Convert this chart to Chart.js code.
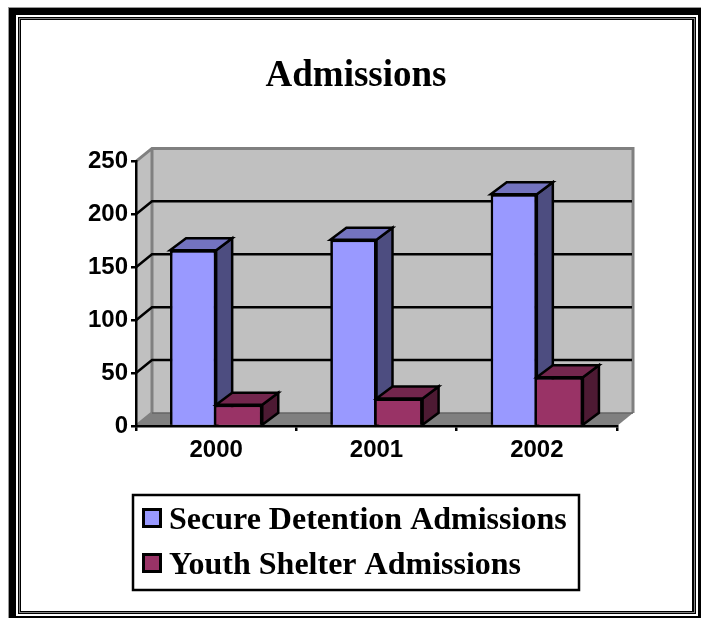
<!DOCTYPE html>
<html>
<head>
<meta charset="utf-8">
<title>Admissions</title>
<script src="https://cdn.jsdelivr.net/npm/chart.js@4"></script>
<style>
  html, body { margin: 0; padding: 0; background: #fff; }
  canvas { display: block; }
</style>
</head>
<body>
<canvas id="chart" width="701" height="618"></canvas>
<script>
const years = ['2000', '2001', '2002'];
const secureDetention = [166, 176, 219];
const youthShelter = [20, 26, 46];
const seriesNames = ['Secure Detention Admissions', 'Youth Shelter Admissions'];

const serif = '"Liberation Serif", serif';
const sans = '"Liberation Sans", sans-serif';
const frontColors = ['#9999ff', '#993366'];
const topColors = ['#7373bf', '#73264d'];
const sideColors = ['#4d4d80', '#4d1a33'];

// depth of the fake 3d box
const wallDx = 16, wallDy = 13;
const barDx = 16, barDy = 12;

function poly(ctx, pts, fill, stroke, lw) {
    ctx.beginPath();
    pts.forEach((p, i) => i ? ctx.lineTo(p[0], p[1]) : ctx.moveTo(p[0], p[1]));
    ctx.closePath();
    if (fill) { ctx.fillStyle = fill; ctx.fill(); }
    if (stroke) { ctx.strokeStyle = stroke; ctx.lineWidth = lw; ctx.lineJoin = 'miter'; ctx.stroke(); }
}

// taller than the square on purpose: chart.js centres the image, this lifts the square to the text
function swatch(color) {
    const c = document.createElement('canvas');
    c.width = 20;
    c.height = 26;
    const g = c.getContext('2d');
    g.fillStyle = '#000';
    g.fillRect(0, 0, 20, 20);
    g.fillStyle = color;
    g.fillRect(3, 3, 14, 14);
    return c;
}

const backdrop = {
    id: 'backdrop',
    afterLayout(chart) {
        // title centred on the whole frame, legend box under the axis
        chart.titleBlock.left = 0;
        chart.titleBlock.right = 712;
        chart.legend.left = 138;
        chart.legend.top = 492;
    },
    beforeDraw(chart) {
        const ctx = chart.ctx;
        const { left, right, top, bottom } = chart.chartArea;

        // page frame
        ctx.fillStyle = '#999'; ctx.fillRect(8, 7, 693, 611);
        ctx.fillStyle = '#000'; ctx.fillRect(9, 8, 692, 610);
        ctx.fillStyle = '#fff'; ctx.fillRect(16, 15, 682, 601);
        ctx.fillStyle = '#000'; ctx.fillRect(18, 17, 678, 597);
        ctx.fillStyle = '#808080'; ctx.fillRect(19, 18, 676, 595);
        ctx.fillStyle = '#000'; ctx.fillRect(20, 19, 674, 593);
        ctx.fillStyle = '#fff'; ctx.fillRect(21, 20, 671, 591);

        // walls and floor
        const bx = left + wallDx, by = top - wallDy, fy = bottom - wallDy, rx = right + wallDx;
        poly(ctx, [[left, top], [bx, by], [bx, fy], [left, bottom]], '#c0c0c0');
        poly(ctx, [[bx, by], [rx, by], [rx, fy], [bx, fy]], '#c0c0c0');
        poly(ctx, [[left, bottom], [bx, fy], [rx, fy], [right, bottom]], '#808080');

        ctx.strokeStyle = '#808080';
        ctx.lineWidth = 3;
        ctx.beginPath();
        ctx.moveTo(left, top); ctx.lineTo(bx, by); ctx.lineTo(rx, by); ctx.lineTo(rx, fy);
        ctx.moveTo(bx, by); ctx.lineTo(bx, fy);
        ctx.moveTo(left, bottom); ctx.lineTo(bx, fy);
        ctx.stroke();
        ctx.strokeStyle = '#666';
        ctx.lineWidth = 1.5;
        ctx.beginPath();
        ctx.moveTo(bx, fy); ctx.lineTo(rx, fy);
        ctx.stroke();

        // gridlines run along the side wall and the back wall
        const yScale = chart.scales.y;
        ctx.strokeStyle = '#000';
        ctx.lineWidth = 2.5;
        ctx.beginPath();
        yScale.ticks.forEach(t => {
            if (t.value === yScale.min || t.value === yScale.max) return;
            const y = yScale.getPixelForValue(t.value);
            ctx.moveTo(left, y);
            ctx.lineTo(bx, y - wallDy);
            ctx.lineTo(rx - 1, y - wallDy);
        });
        ctx.stroke();

        // legend box
        ctx.fillStyle = '#fff';
        ctx.strokeStyle = '#000';
        ctx.lineWidth = 2.5;
        ctx.fillRect(133, 495, 446, 95);
        ctx.strokeRect(133, 495, 446, 95);
    },
    afterDatasetsDraw(chart) {
        // chart.js paints the last dataset first, the boxes need the opposite
        const ctx = chart.ctx;
        chart.data.datasets.forEach((ds, i) => {
            chart.getDatasetMeta(i).data.forEach(bar => {
                const { x, y, base, width } = bar.getProps(['x', 'y', 'base', 'width'], true);
                const x0 = x - width / 2, x1 = x + width / 2;
                bar.draw(ctx);
                poly(ctx, [[x1, y], [x1 + barDx, y - barDy], [x1 + barDx, base - barDy], [x1, base]], sideColors[i], '#000', 2.5);
                poly(ctx, [[x0, y], [x0 + barDx, y - barDy], [x1 + barDx, y - barDy], [x1, y]], topColors[i], '#000', 2.5);
            });
        });
    }
};

new Chart(document.getElementById('chart'), {
    type: 'bar',
    data: {
        labels: years,
        datasets: [{
                label: seriesNames[0],
                data: secureDetention,
                backgroundColor: frontColors[0],
                borderColor: '#000',
                borderWidth: { top: 2.5, left: 2.5, right: 2.5, bottom: 0 },
                borderSkipped: false
            },
            {
                label: seriesNames[1],
                data: youthShelter,
                backgroundColor: frontColors[1],
                borderColor: '#000',
                borderWidth: { top: 2.5, left: 0, right: 2.5, bottom: 0 },
                borderSkipped: false
            }
        ]
    },
    options: {
        responsive: false,
        animation: false,
        events: [],
        layout: { padding: { left: 16, right: 84, top: 0, bottom: 42 } },
        datasets: { bar: { categoryPercentage: 0.575, barPercentage: 1 } },
        scales: {
            x: {
                afterFit: s => { s.height = 50; },
                border: { color: '#000', width: 2.5 },
                grid: { drawOnChartArea: false, color: '#000', lineWidth: 2.5, tickLength: 5 },
                ticks: { color: '#000', padding: 5, maxRotation: 0, font: { family: sans, size: 24, weight: 'bold' } }
            },
            y: {
                min: 0,
                max: 250,
                afterFit: s => { s.width = 120; },
                border: { color: '#000', width: 2.5 },
                grid: { drawOnChartArea: false, color: '#000', lineWidth: 2.5, tickLength: 5 },
                ticks: { stepSize: 50, color: '#000', padding: 3, font: { family: sans, size: 24, weight: 'bold' } }
            }
        },
        plugins: {
            tooltip: { enabled: false },
            title: {
                display: true,
                text: 'Admissions',
                color: '#000',
                font: { family: serif, size: 37, weight: 'bold' },
                padding: { top: 54, bottom: 63 }
            },
            legend: {
                position: 'bottom',
                align: 'start',
                labels: {
                    color: '#000',
                    font: { family: serif, size: 32, weight: 'bold' },
                    padding: 13,
                    boxWidth: 2,
                    usePointStyle: true,
                    generateLabels: chart => Chart.defaults.plugins.legend.labels.generateLabels(chart)
                        .map(item => ({ ...item, pointStyle: swatch(item.fillStyle) }))
                }
            }
        }
    },
    plugins: [backdrop]
});
</script>
</body>
</html>
